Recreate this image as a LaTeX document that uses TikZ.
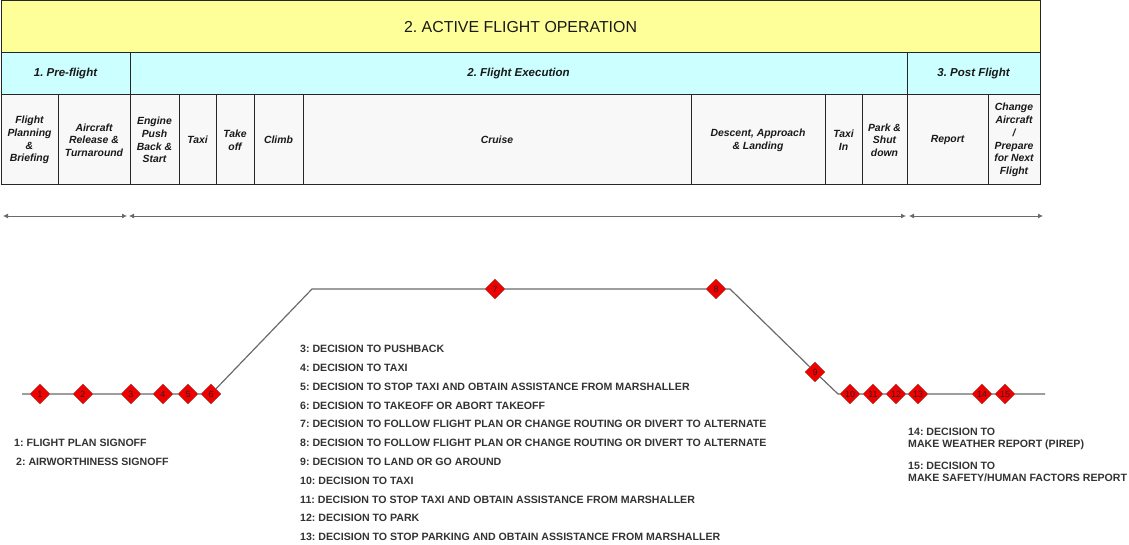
\documentclass[tikz,border=0pt]{standalone}
\usepackage{fontspec}
\setmainfont{Liberation Sans}
\usepackage{tikz}
\usetikzlibrary{arrows.meta, positioning, shapes.geometric}
\frenchspacing

\definecolor{hdryellow}{HTML}{FFFF99}
\definecolor{phasecyan}{HTML}{CCFFFF}
\definecolor{cellgray}{HTML}{F8F8F8}
\definecolor{textgray}{HTML}{333333}
\definecolor{trackgray}{HTML}{6A6A6A}
\definecolor{decisionred}{HTML}{F00000}
\definecolor{decisionedge}{HTML}{9A3A2A}

\begin{document}
\begin{tikzpicture}[
  x=1pt, y=-1pt,
  cell/.style={draw=black!85, line width=1pt, anchor=north west, inner sep=1pt, outer sep=0pt, align=center, text=black!90},
  title/.style={cell, fill=hdryellow, minimum height=52pt, font=\fontsize{15.9}{18}\selectfont},
  phase/.style={cell, fill=phasecyan, minimum height=42pt, font=\fontsize{11.5}{13}\selectfont\bfseries\itshape},
  stage/.style={cell, fill=cellgray, minimum height=90pt, font=\fontsize{10.4}{12.7}\selectfont\bfseries\itshape},
  span/.style={{Latex[length=5pt,width=5pt]}-{Latex[length=5pt,width=5pt]}, trackgray, line width=0.8pt},
  track/.style={trackgray, line width=1.2pt},
  decision/.style={diamond, draw=decisionedge, fill=decisionred, minimum size=20pt, inner sep=0pt, font=\fontsize{9}{10}\selectfont, text=black!85},
  item/.style={anchor=west, inner sep=0pt, text=textgray, font=\fontsize{10.6}{12}\selectfont\bfseries}
]
\useasboundingbox (0,0) rectangle (1129,545);

% header rows
\node[title, minimum width=1039pt] (opn) at (1,1) {2. ACTIVE FLIGHT OPERATION};
\node[phase, minimum width=129pt] (pre) at (1,53) {1. Pre-flight};
\node[phase, minimum width=777pt, right=0pt of pre] (exec) {2. Flight Execution};
\node[phase, minimum width=133pt, right=0pt of exec] (post) {3. Post Flight};

% stages
\node[stage, minimum width=57pt] (plan) at (1,95) {Flight\\Planning\\\&\\Briefing};
\node[stage, minimum width=72pt, right=0pt of plan] (release) {Aircraft\\Release \&\\Turnaround};
\node[stage, minimum width=49pt, right=0pt of release] (engine) {Engine\\Push\\Back \&\\Start};
\node[stage, minimum width=37pt, right=0pt of engine] (taxi) {Taxi};
\node[stage, minimum width=38pt, right=0pt of taxi] (takeoff) {Take\\off};
\node[stage, minimum width=49pt, right=0pt of takeoff] (climb) {Climb};
\node[stage, minimum width=388pt, right=0pt of climb] (cruise) {Cruise};
\node[stage, minimum width=134pt, right=0pt of cruise] (descent) {Descent, Approach\\\& Landing};
\node[stage, minimum width=37pt, right=0pt of descent] (taxiin) {Taxi\\In};
\node[stage, minimum width=45pt, right=0pt of taxiin] (park) {Park \&\\Shut\\down};
\node[stage, minimum width=81pt, right=0pt of park] (report) {Report};
\node[stage, minimum width=52pt, right=0pt of report] (change) {Change\\Aircraft\\/\\Prepare\\for Next\\Flight};

% phase spans
\coordinate (s0) at (3,216);
\coordinate (s1) at (127,216);
\coordinate (s2) at (129,216);
\coordinate (s3) at (906,216);
\coordinate (s4) at (909,216);
\coordinate (s5) at (1043,216);
\draw[span] (s0) -- (s1);
\draw[span] (s2) -- (s3);
\draw[span] (s4) -- (s5);

% flight profile
\coordinate (tstart) at (22,394);
\coordinate (topleft) at (312,289);
\coordinate (topright) at (730,289);
\coordinate (touch) at (838,394);
\coordinate (tend) at (1045,394);
\node[decision] (d1) at (40,394) {1};
\node[decision] (d2) at (83,394) {2};
\node[decision] (d3) at (131,394) {3};
\node[decision] (d4) at (163,394) {4};
\node[decision] (d5) at (188,394) {5};
\node[decision] (d6) at (211,394) {6};
\node[decision] (d7) at (495,289) {7};
\node[decision] (d8) at (716,289) {8};
\node[decision] (d9) at (815,372) {9};
\node[decision] (d10) at (850,394) {10};
\node[decision] (d11) at (873,394) {11};
\node[decision] (d12) at (896,394) {12};
\node[decision] (d13) at (918,394) {13};
\node[decision] (d14) at (982,394) {14};
\node[decision] (d15) at (1005,394) {15};
\draw[track] (tstart) -- (d1) -- (d2) -- (d3) -- (d4) -- (d5) -- (d6) -- (topleft)
  -- (d7) -- (d8) -- (topright) -- (d9) -- (touch) -- (d10) -- (d11) -- (d12)
  -- (d13) -- (d14) -- (d15) -- (tend);

% legend
\node[item] (l1) at (14,443) {1: FLIGHT PLAN SIGNOFF};
\node[item] (l2) at (16,462) {2: AIRWORTHINESS SIGNOFF};
\node[item] (l3) at (300,349) {3: DECISION TO PUSHBACK};
\node[item, below=18.8pt of l3.west, anchor=west] (l4) {4: DECISION TO TAXI};
\node[item, below=18.8pt of l4.west, anchor=west] (l5) {5: DECISION TO STOP TAXI AND OBTAIN ASSISTANCE FROM MARSHALLER};
\node[item, below=18.8pt of l5.west, anchor=west] (l6) {6: DECISION TO TAKEOFF OR ABORT TAKEOFF};
\node[item, below=18.8pt of l6.west, anchor=west] (l7) {7: DECISION TO FOLLOW FLIGHT PLAN OR CHANGE ROUTING OR DIVERT TO ALTERNATE};
\node[item, below=18.8pt of l7.west, anchor=west] (l8) {8: DECISION TO FOLLOW FLIGHT PLAN OR CHANGE ROUTING OR DIVERT TO ALTERNATE};
\node[item, below=18.8pt of l8.west, anchor=west] (l9) {9: DECISION TO LAND OR GO AROUND};
\node[item, below=18.8pt of l9.west, anchor=west] (l10) {10: DECISION TO TAXI};
\node[item, below=18.8pt of l10.west, anchor=west] (l11) {11: DECISION TO STOP TAXI AND OBTAIN ASSISTANCE FROM MARSHALLER};
\node[item, below=18.8pt of l11.west, anchor=west] (l12) {12: DECISION TO PARK};
\node[item, below=18.8pt of l12.west, anchor=west] (l13) {13: DECISION TO STOP PARKING AND OBTAIN ASSISTANCE FROM MARSHALLER};
\node[item, align=left] (l14) at (908,439) {14: DECISION TO\\MAKE WEATHER REPORT (PIREP)};
\node[item, align=left] (l15) at (908,472) {15: DECISION TO\\MAKE SAFETY/HUMAN FACTORS REPORT};
\end{tikzpicture}
\end{document}
